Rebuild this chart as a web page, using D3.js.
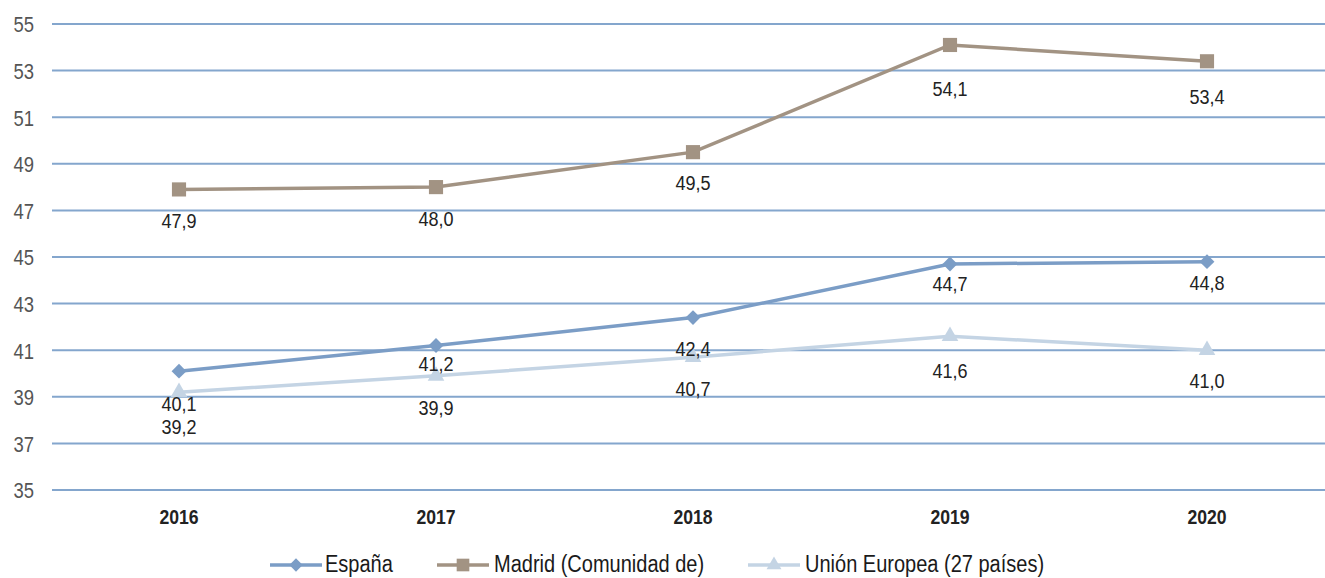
<!DOCTYPE html>
<html><head><meta charset="utf-8">
<script src="https://cdn.jsdelivr.net/npm/d3@7"></script>
<style>
html,body{margin:0;padding:0;background:#fff;}
svg text{font-family:"Liberation Sans Narrow","Liberation Sans",Arial,sans-serif;}
</style></head>
<body>
<svg id="chart" width="1325" height="578"></svg>
<script>
const years = ["2016","2017","2018","2019","2020"];
const espana = [40.1, 41.2, 42.4, 44.7, 44.8];
const madrid = [47.9, 48.0, 49.5, 54.1, 53.4];
const ue27 = [39.2, 39.9, 40.7, 41.6, 41.0];
const seriesNames = ["España", "Madrid (Comunidad de)", "Unión Europea (27 países)"];
const yTicks = [35, 37, 39, 41, 43, 45, 47, 49, 51, 53, 55];
// label vertical offsets (px below the point), as positioned in the original
const espanaLabelDy = [32, 18, 31, 19, 21];
const madridLabelDy = [31, 31, 30, 43, 35];
const ue27LabelDy = [34, 32, 31, 34, 30];

const svg = d3.select("#chart");
const x = d3.scaleBand().domain(years).range([50.5, 1335.5]);
const y = d3.scaleLinear().domain([35, 55]).range([490, 24]);
const cx = d => x(d) + x.bandwidth() / 2;

// narrow-text helper: place text at (px,py) horizontally condensed
function narrowText(sel, px, py, sx) {
  sel.attr("transform", (d, i) => `translate(${px(d, i)},${py(d, i)}) scale(${sx},1)`)
     .attr("x", 0).attr("y", 0);
}

// gridlines
svg.append("g").selectAll("line").data(yTicks).join("line")
  .attr("x1", 52).attr("x2", 1325)
  .attr("y1", d => y(d)).attr("y2", d => y(d))
  .attr("stroke", "#84a6cd").attr("stroke-width", 2);

// y axis labels
const yAxis = d3.axisLeft(y).tickValues(yTicks).tickSize(0).tickPadding(0);
const ya = svg.append("g").attr("transform", "translate(34,0)").call(yAxis);
ya.select(".domain").remove();
ya.selectAll(".tick text").attr("font-size", 22).attr("fill", "#555").attr("dy", "0.36em")
  .attr("transform", "scale(0.84,1)").attr("x", 0)
  .style("font-family", '"Liberation Sans",Arial,sans-serif');

// x axis labels
const xAxis = d3.axisBottom(x).tickSize(0).tickPadding(0);
const xa = svg.append("g").attr("transform", "translate(0,510)").call(xAxis);
xa.select(".domain").remove();
xa.selectAll(".tick text").attr("font-size", 20).attr("font-weight", "bold").attr("fill", "#222")
  .attr("dy", "0.71em").attr("transform", "scale(0.88,1)").attr("y", 0)
  .style("font-family", '"Liberation Sans",Arial,sans-serif');

const diamond = {
  draw(ctx, size) {
    const r = Math.sqrt(size / 2);
    ctx.moveTo(0, -r); ctx.lineTo(r, 0); ctx.lineTo(0, r); ctx.lineTo(-r, 0); ctx.closePath();
  }
};

const series = [
  {name: seriesNames[0], vals: espana, dy: espanaLabelDy, color: "#7b9dc6", marker: diamond, size: 110},
  {name: seriesNames[1], vals: madrid, dy: madridLabelDy, color: "#a29383", marker: d3.symbolSquare, size: 200},
  {name: seriesNames[2], vals: ue27, dy: ue27LabelDy, color: "#c4d4e4", marker: d3.symbolTriangle, size: 120},
];
const line = d3.line().x((d, i) => cx(years[i])).y(d => y(d));

const order = [series[2], series[1], series[0]];
order.forEach(s => {
  const g = svg.append("g");
  g.append("path").datum(s.vals).attr("d", line)
    .attr("fill", "none").attr("stroke", s.color).attr("stroke-width", 3.5);
  g.selectAll("path.m").data(s.vals).join("path").attr("class", "m")
    .attr("d", d3.symbol().type(s.marker).size(s.size))
    .attr("transform", (d, i) => `translate(${cx(years[i])},${y(d)})`)
    .attr("fill", s.color);
});
order.forEach(s => {
  const t = svg.append("g").selectAll("text").data(s.vals).join("text")
    .attr("dy", "0.36em")
    .attr("text-anchor", "middle")
    .attr("font-size", 21).attr("fill", "#222")
    .text(d => d.toFixed(1).replace(".", ","));
  narrowText(t, (d, i) => cx(years[i]), (d, i) => y(d) + s.dy[i], 0.86);
});

// legend
const legendY = 562;
const legend = [
  {s: series[0], x: 270, tx: 325},
  {s: series[1], x: 437, tx: 494},
  {s: series[2], x: 748, tx: 805},
];
const lg = svg.append("g");
legend.forEach(l => {
  lg.append("line").attr("x1", l.x).attr("x2", l.x + 52).attr("y1", legendY + 3).attr("y2", legendY + 3)
    .attr("stroke", l.s.color).attr("stroke-width", 3.5);
  lg.append("path").attr("d", d3.symbol().type(l.s.marker).size(l.s.size * 0.8))
    .attr("transform", `translate(${l.x + 26},${legendY + 3})`).attr("fill", l.s.color);
  const t = lg.append("text").datum(l).attr("dy", "0.36em")
    .attr("font-size", 23).attr("fill", "#1a1a1a").text(l.s.name);
  narrowText(t, d => d.tx, () => legendY + 2, 0.87);
});
</script>
</body></html>
